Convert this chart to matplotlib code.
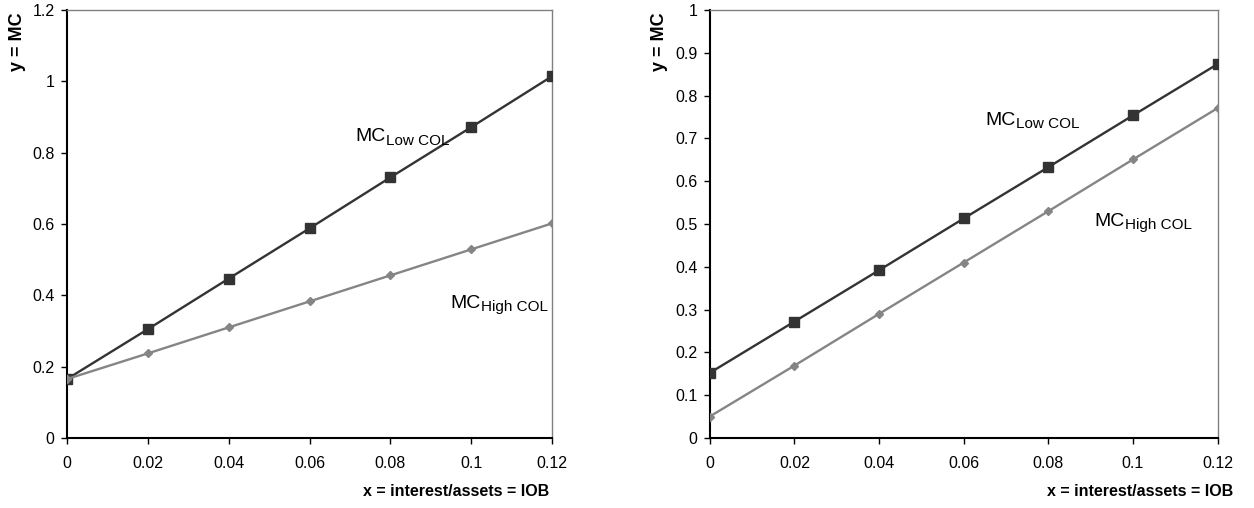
import matplotlib.pyplot as plt
import numpy as np

plt.rcParams['font.family'] = ['Liberation Sans', 'DejaVu Sans']

x = [0, 0.02, 0.04, 0.06, 0.08, 0.1, 0.12]

# left panel
left_low = [0.165, 0.305, 0.447, 0.588, 0.731, 0.872, 1.015]
left_high = [0.165, 0.237, 0.310, 0.383, 0.456, 0.529, 0.602]

# right panel
right_low = [0.152, 0.272, 0.392, 0.513, 0.633, 0.754, 0.874]
right_high = [0.050, 0.169, 0.290, 0.410, 0.530, 0.651, 0.771]

xticks = [0, 0.02, 0.04, 0.06, 0.08, 0.1, 0.12]
xticklabels = ['0', '0.02', '0.04', '0.06', '0.08', '0.1', '0.12']
left_yticks = [0, 0.2, 0.4, 0.6, 0.8, 1, 1.2]
left_yticklabels = ['0', '0.2', '0.4', '0.6', '0.8', '1', '1.2']
right_yticks = [0, 0.1, 0.2, 0.3, 0.4, 0.5, 0.6, 0.7, 0.8, 0.9, 1]
right_yticklabels = ['0', '0.1', '0.2', '0.3', '0.4', '0.5', '0.6', '0.7', '0.8', '0.9', '1']

fig = plt.figure(figsize=(12.54, 5.08), dpi=100)
ax1 = fig.add_axes([0.0534, 0.138, 0.387, 0.842])
ax2 = fig.add_axes([0.566, 0.138, 0.405, 0.842])

dark = '#333333'
grey = '#858585'


def style(ax, ymax, yticks, yticklabels):
    ax.set_xlim(0, 0.12)
    ax.set_ylim(0, ymax)
    ax.set_xticks(xticks)
    ax.set_xticklabels(xticklabels)
    ax.set_yticks(yticks)
    ax.set_yticklabels(yticklabels)
    ax.tick_params(direction='out', length=4, width=1, labelsize=11.5, pad=5)
    ax.xaxis.set_tick_params(pad=9)
    for s in ['left', 'bottom']:
        ax.spines[s].set_color('black')
        ax.spines[s].set_linewidth(1.5)
    for s in ['top', 'right']:
        ax.spines[s].set_color('#808080')
        ax.spines[s].set_linewidth(1)


def mc_label(ax, xpos, ypos, sub):
    t = ax.text(xpos, ypos, 'MC', fontsize=14, va='center')
    ax.annotate(sub, xy=(1, 0.1), xycoords=t, xytext=(0, -3),
                textcoords='offset points', fontsize=11, va='bottom')


ax1.plot(x, left_low, color=dark, lw=1.7, marker='s', ms=6.5, zorder=3)
ax1.plot(x, left_high, color=grey, lw=1.7, marker='D', ms=4, zorder=3)
style(ax1, 1.2, left_yticks, left_yticklabels)
mc_label(ax1, 0.0713, 0.845, 'Low COL')
mc_label(ax1, 0.0948, 0.378, 'High COL')

ax2.plot(x, right_low, color=dark, lw=1.7, marker='s', ms=6.5, zorder=3)
ax2.plot(x, right_high, color=grey, lw=1.7, marker='D', ms=4, zorder=3)
style(ax2, 1.0, right_yticks, right_yticklabels)
mc_label(ax2, 0.0652, 0.742, 'Low COL')
mc_label(ax2, 0.0909, 0.506, 'High COL')

fig.text(18 / 1254, 1 - 12 / 508, 'y = MC', rotation=90, ha='center', va='top',
         fontsize=13, fontweight='bold')
fig.text(660 / 1254, 1 - 12 / 508, 'y = MC', rotation=90, ha='center', va='top',
         fontsize=13, fontweight='bold')
fig.text(549 / 1254, 1 - 491 / 508, 'x = interest/assets = IOB', ha='right', va='center',
         fontsize=11.5, fontweight='bold')
fig.text(1233 / 1254, 1 - 491 / 508, 'x = interest/assets = IOB', ha='right', va='center',
         fontsize=11.5, fontweight='bold')

plt.savefig('out.png')
